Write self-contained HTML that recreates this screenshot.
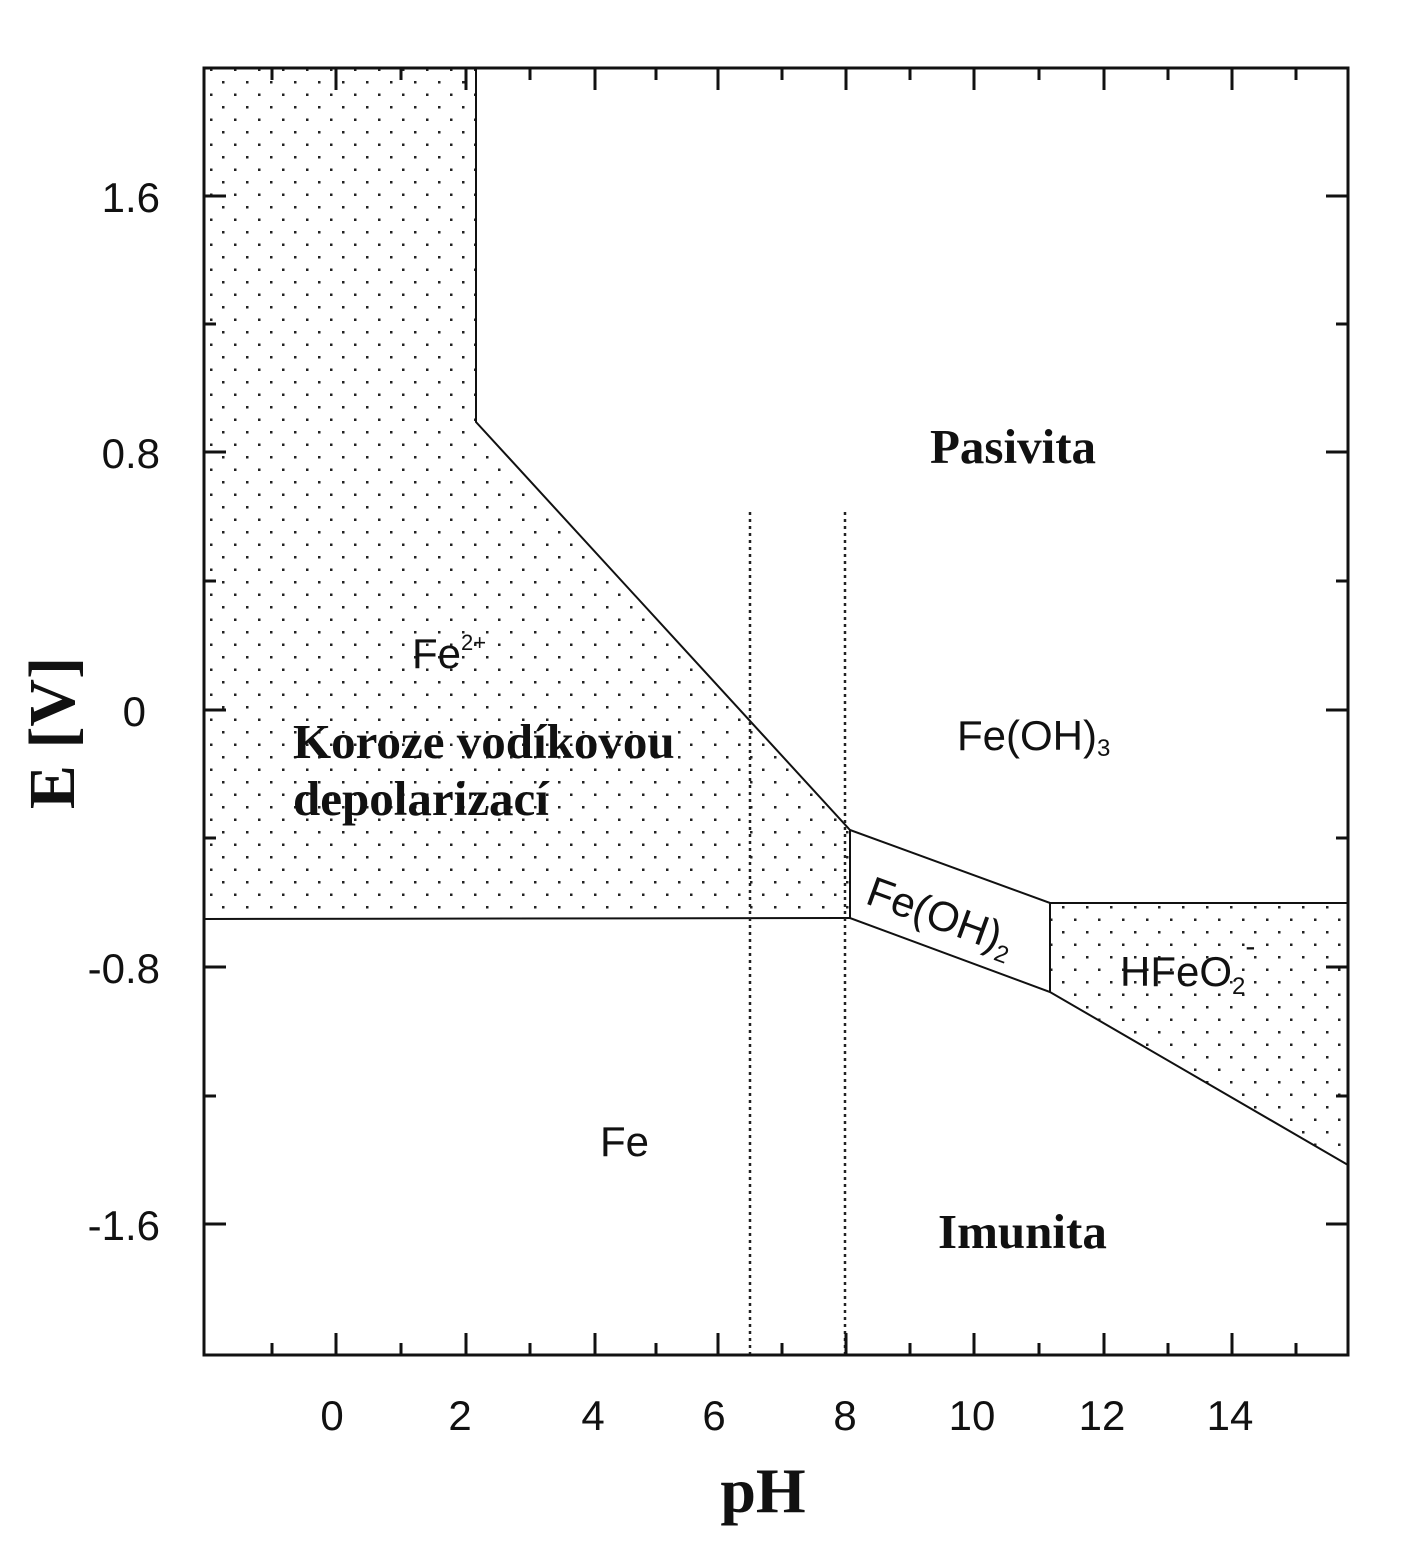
<!DOCTYPE html>
<html><head><meta charset="utf-8"><style>
html,body{margin:0;padding:0;background:#fff}
svg{display:block}
.t{font-family:"Liberation Sans",Arial,sans-serif;font-size:42px;fill:#111}
.b{font-family:"Liberation Serif","Times New Roman",serif;font-weight:bold;fill:#111}
</style></head><body>
<svg width="1422" height="1566" viewBox="0 0 1422 1566" xmlns="http://www.w3.org/2000/svg">
<defs>
<pattern id="dots" width="24" height="25" patternUnits="userSpaceOnUse">
<rect x="6" y="6" width="2.5" height="2.5" fill="#222"/>
<rect x="18" y="18.5" width="2.5" height="2.5" fill="#222"/>
</pattern>
</defs>
<rect width="1422" height="1566" fill="#fff"/>
<polygon points="204,68 476,68 476,422 850,830 850,918 840,918 204,919" fill="url(#dots)"/>
<polygon points="1050,903 1348,903 1348,1165 1050,992" fill="url(#dots)"/>
<g stroke="#111" stroke-width="2" fill="none">
<polyline points="476,68 476,422 850,830 1050,903 1348,903"/>
<polyline points="204,919 840,918 850,918 1050,992 1348,1165"/>
<line x1="850" y1="830" x2="850" y2="918"/>
<line x1="1050" y1="903" x2="1050" y2="992"/>
</g>
<g stroke="#222" stroke-width="2.5" stroke-dasharray="3,4">
<line x1="750" y1="512" x2="750" y2="1355"/>
<line x1="845" y1="512" x2="845" y2="1355"/>
</g>
<rect x="204" y="68" width="1144" height="1287" fill="none" stroke="#111" stroke-width="3"/>
<g stroke="#111" stroke-width="3">
<line x1="204" y1="196" x2="226" y2="196"/><line x1="1348" y1="196" x2="1326" y2="196"/>
<line x1="204" y1="452" x2="226" y2="452"/><line x1="1348" y1="452" x2="1326" y2="452"/>
<line x1="204" y1="710" x2="226" y2="710"/><line x1="1348" y1="710" x2="1326" y2="710"/>
<line x1="204" y1="967" x2="226" y2="967"/><line x1="1348" y1="967" x2="1326" y2="967"/>
<line x1="204" y1="1224" x2="226" y2="1224"/><line x1="1348" y1="1224" x2="1326" y2="1224"/>
<line x1="204" y1="324" x2="216" y2="324"/><line x1="1348" y1="324" x2="1336" y2="324"/>
<line x1="204" y1="581" x2="216" y2="581"/><line x1="1348" y1="581" x2="1336" y2="581"/>
<line x1="204" y1="838" x2="216" y2="838"/><line x1="1348" y1="838" x2="1336" y2="838"/>
<line x1="204" y1="1096" x2="216" y2="1096"/><line x1="1348" y1="1096" x2="1336" y2="1096"/>
<line x1="336" y1="68" x2="336" y2="90"/><line x1="336" y1="1355" x2="336" y2="1333"/>
<line x1="466" y1="68" x2="466" y2="90"/><line x1="466" y1="1355" x2="466" y2="1333"/>
<line x1="595" y1="68" x2="595" y2="90"/><line x1="595" y1="1355" x2="595" y2="1333"/>
<line x1="718" y1="68" x2="718" y2="90"/><line x1="718" y1="1355" x2="718" y2="1333"/>
<line x1="846" y1="68" x2="846" y2="90"/><line x1="846" y1="1355" x2="846" y2="1333"/>
<line x1="974" y1="68" x2="974" y2="90"/><line x1="974" y1="1355" x2="974" y2="1333"/>
<line x1="1104" y1="68" x2="1104" y2="90"/><line x1="1104" y1="1355" x2="1104" y2="1333"/>
<line x1="1232" y1="68" x2="1232" y2="90"/><line x1="1232" y1="1355" x2="1232" y2="1333"/>
<line x1="272" y1="68" x2="272" y2="80"/><line x1="272" y1="1355" x2="272" y2="1343"/>
<line x1="401" y1="68" x2="401" y2="80"/><line x1="401" y1="1355" x2="401" y2="1343"/>
<line x1="530" y1="68" x2="530" y2="80"/><line x1="530" y1="1355" x2="530" y2="1343"/>
<line x1="656" y1="68" x2="656" y2="80"/><line x1="656" y1="1355" x2="656" y2="1343"/>
<line x1="782" y1="68" x2="782" y2="80"/><line x1="782" y1="1355" x2="782" y2="1343"/>
<line x1="910" y1="68" x2="910" y2="80"/><line x1="910" y1="1355" x2="910" y2="1343"/>
<line x1="1039" y1="68" x2="1039" y2="80"/><line x1="1039" y1="1355" x2="1039" y2="1343"/>
<line x1="1168" y1="68" x2="1168" y2="80"/><line x1="1168" y1="1355" x2="1168" y2="1343"/>
<line x1="1296" y1="68" x2="1296" y2="80"/><line x1="1296" y1="1355" x2="1296" y2="1343"/>
</g>
<g class="t" text-anchor="end">
<text x="160" y="212">1.6</text>
<text x="160" y="468">0.8</text>
<text x="146" y="726">0</text>
<text x="160" y="983">-0.8</text>
<text x="160" y="1240">-1.6</text>
</g>
<g class="t" text-anchor="middle">
<text x="332" y="1430">0</text>
<text x="460" y="1430">2</text>
<text x="593" y="1430">4</text>
<text x="714" y="1430">6</text>
<text x="845" y="1430">8</text>
<text x="972" y="1430">10</text>
<text x="1102" y="1430">12</text>
<text x="1230" y="1430">14</text>
</g>
<text class="b" x="763" y="1512" font-size="64" text-anchor="middle">pH</text>
<text class="b" font-size="66" text-anchor="middle" transform="translate(74,733) rotate(-90)">E [V]</text>
<text class="t" x="412" y="668">Fe<tspan font-size="22" dy="-18">2+</tspan></text>
<text class="b" x="293" y="758" font-size="49">Koroze vodíkovou</text>
<text class="b" x="293" y="815" font-size="49">depolarizací</text>
<text class="b" x="930" y="463" font-size="49">Pasivita</text>
<text class="t" x="957" y="750" font-size="45">Fe(OH)<tspan font-size="24" dy="6">3</tspan></text>
<text class="t" font-size="48" transform="translate(864,903) rotate(20)">Fe(OH)<tspan font-size="24" dy="9">2</tspan></text>
<text class="t" x="1120" y="986" font-size="44">HFeO<tspan font-size="24" dy="8">2</tspan><tspan font-size="30" dy="-38">-</tspan></text>
<text class="t" x="600" y="1156" font-size="44">Fe</text>
<text class="b" x="938" y="1248" font-size="49">Imunita</text>
</svg>
</body></html>
